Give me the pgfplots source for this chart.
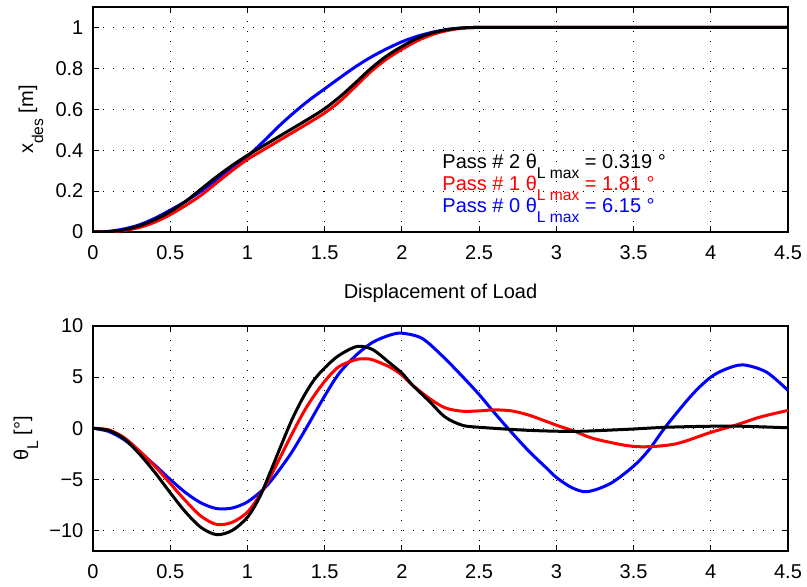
\documentclass[border=0pt]{standalone}
\usepackage{pgfplots}
\pgfplotsset{compat=1.18}
\usepackage{fontspec}
\setmainfont{Liberation Sans}
\newcommand{\sub}[1]{\raisebox{-5pt}{\fontsize{7.8}{9}\selectfont #1}}
\begin{document}
\begin{tikzpicture}[font=\fontsize{10}{12}\selectfont]
\path[use as bounding box] (0,0) rectangle (403.5pt,293pt);
\pgfplotsset{
 mystyle/.style={
  scale only axis, width=347.5pt, height=112.5pt, anchor=south west,
  xmin=0, xmax=4.5, xtick={0,0.5,1,1.5,2,2.5,3,3.5,4,4.5},
  xticklabels={0,0.5,1,1.5,2,2.5,3,3.5,4,4.5},
  tick align=inside, major tick length=3pt, tick style={black, line width=0.5pt},
  axis line style={black, line width=0.6pt},
  grid=major, major grid style={black, line width=0.5pt, dash pattern=on 0.5pt off 4.5pt},
  xticklabel style={yshift=-3.3pt}, yticklabel style={xshift=-1.3pt},
  every axis plot/.append style={line width=1.5pt, smooth, tension=0.5},
 }
}
\begin{axis}[mystyle, at={(46.5pt,177pt)},
  ymin=0, ymax=1.1, ytick={0,0.2,0.4,0.6,0.8,1}, yticklabels={0,0.2,0.4,0.6,0.8,1},
  ylabel={x\sub{des} [m]},
  ylabel style={at={(axis description cs:-0.0863,0.5)}, anchor=base},
]
\addplot[blue] coordinates {(0,0)(0.1,0.003)(0.2,0.015)(0.3,0.035)(0.4,0.067)(0.5,0.107)(0.6,0.15)(0.7,0.20)(0.8,0.255)(0.9,0.31)(1.0,0.37)(1.1,0.44)(1.2,0.515)(1.3,0.583)(1.4,0.645)(1.5,0.70)(1.6,0.755)(1.7,0.808)(1.8,0.855)(1.9,0.895)(2.0,0.93)(2.1,0.957)(2.2,0.977)(2.3,0.991)(2.4,0.998)(2.5,1)(3,1)(3.5,1)(4,1)(4.5,1)};
\addplot[red] coordinates {(0,0)(0.1,0.001)(0.2,0.007)(0.3,0.022)(0.4,0.048)(0.5,0.085)(0.6,0.13)(0.7,0.18)(0.8,0.24)(0.9,0.30)(1.0,0.355)(1.1,0.40)(1.2,0.445)(1.3,0.49)(1.4,0.535)(1.5,0.582)(1.6,0.64)(1.7,0.712)(1.8,0.785)(1.9,0.845)(2.0,0.893)(2.1,0.935)(2.2,0.966)(2.3,0.986)(2.4,0.997)(2.5,1)(3,1)(3.5,1)(4,1)(4.5,1)};
\addplot[black] coordinates {(0,0)(0.1,0.002)(0.2,0.01)(0.3,0.03)(0.4,0.06)(0.5,0.10)(0.6,0.15)(0.7,0.21)(0.8,0.27)(0.9,0.325)(1.0,0.375)(1.1,0.42)(1.2,0.465)(1.3,0.51)(1.4,0.555)(1.5,0.603)(1.6,0.662)(1.7,0.73)(1.8,0.80)(1.9,0.86)(2.0,0.907)(2.1,0.947)(2.2,0.974)(2.3,0.99)(2.4,0.998)(2.5,1)(3,1)(3.5,1)(4,1)(4.5,1)};
\node[anchor=base west, inner sep=0, text=black] at (axis cs:2.26,0.312) {Pass \# 2 θ\sub{L max} = 0.319 °};
\node[anchor=base west, inner sep=0, text=red] at (axis cs:2.26,0.205) {Pass \# 1 θ\sub{L max} = 1.81 °};
\node[anchor=base west, inner sep=0, text=blue] at (axis cs:2.26,0.094) {Pass \# 0 θ\sub{L max} = 6.15 °};
\end{axis}
\begin{axis}[mystyle, at={(46.5pt,17.5pt)},
  ymin=-12, ymax=10, ytick={-10,-5,0,5,10}, yticklabels={−10,−5,0,5,10},
  ylabel={θ\sub{L} [°]},
  ylabel style={at={(axis description cs:-0.0935,0.5)}, anchor=base},
  title={Displacement of Load},
  title style={at={(axis description cs:0.5,1)}, anchor=base, yshift=8pt},
]
\addplot[blue] coordinates {(0,0)(0.1,-0.3)(0.2,-1.1)(0.3,-2.3)(0.4,-3.6)(0.5,-5.0)(0.6,-6.3)(0.7,-7.3)(0.8,-7.85)(0.9,-7.8)(1.0,-7.2)(1.1,-6.0)(1.17,-4.8)(1.28,-2.5)(1.38,0.0)(1.49,2.9)(1.59,5.3)(1.70,7.1)(1.81,8.4)(1.92,9.1)(2.0,9.3)(2.13,8.8)(2.26,7.1)(2.39,5.1)(2.5,3.3)(2.6,1.5)(2.71,-0.4)(2.82,-2.2)(2.93,-3.8)(3.0,-4.8)(3.1,-5.8)(3.2,-6.2)(3.35,-5.4)(3.5,-3.7)(3.6,-2.1)(3.71,0.2)(3.88,3.3)(4.0,5.0)(4.1,5.8)(4.21,6.2)(4.36,5.5)(4.5,3.7)};
\addplot[red] coordinates {(0,0)(0.1,-0.15)(0.2,-0.9)(0.3,-2.2)(0.4,-3.7)(0.5,-5.4)(0.6,-7.1)(0.7,-8.6)(0.8,-9.4)(0.9,-9.2)(1.0,-8.2)(1.09,-6.3)(1.17,-4.1)(1.28,-0.8)(1.38,2.0)(1.49,4.4)(1.59,6.0)(1.70,6.7)(1.76,6.8)(1.81,6.7)(1.92,6.0)(2.0,5.2)(2.07,4.2)(2.18,2.9)(2.28,2.0)(2.39,1.67)(2.5,1.7)(2.6,1.8)(2.71,1.7)(2.82,1.3)(2.93,0.7)(3.02,0.2)(3.12,-0.3)(3.24,-1.0)(3.46,-1.7)(3.6,-1.8)(3.78,-1.5)(4.0,-0.4)(4.16,0.3)(4.32,1.1)(4.5,1.75)};
\addplot[black] coordinates {(0,0)(0.1,-0.2)(0.2,-1.0)(0.3,-2.5)(0.4,-4.3)(0.5,-6.3)(0.6,-8.2)(0.7,-9.7)(0.8,-10.4)(0.9,-10.0)(1.0,-8.7)(1.08,-6.7)(1.15,-4.2)(1.22,-1.6)(1.29,0.9)(1.36,3.0)(1.43,4.7)(1.50,5.9)(1.59,7.1)(1.71,8.0)(1.81,7.7)(1.92,6.4)(2.0,5.4)(2.07,4.2)(2.18,2.6)(2.28,1.1)(2.39,0.3)(2.5,0.1)(2.82,-0.2)(3.12,-0.3)(3.46,-0.1)(3.71,0.1)(4.0,0.2)(4.2,0.2)(4.5,0.05)};
\end{axis}
\end{tikzpicture}
\end{document}
